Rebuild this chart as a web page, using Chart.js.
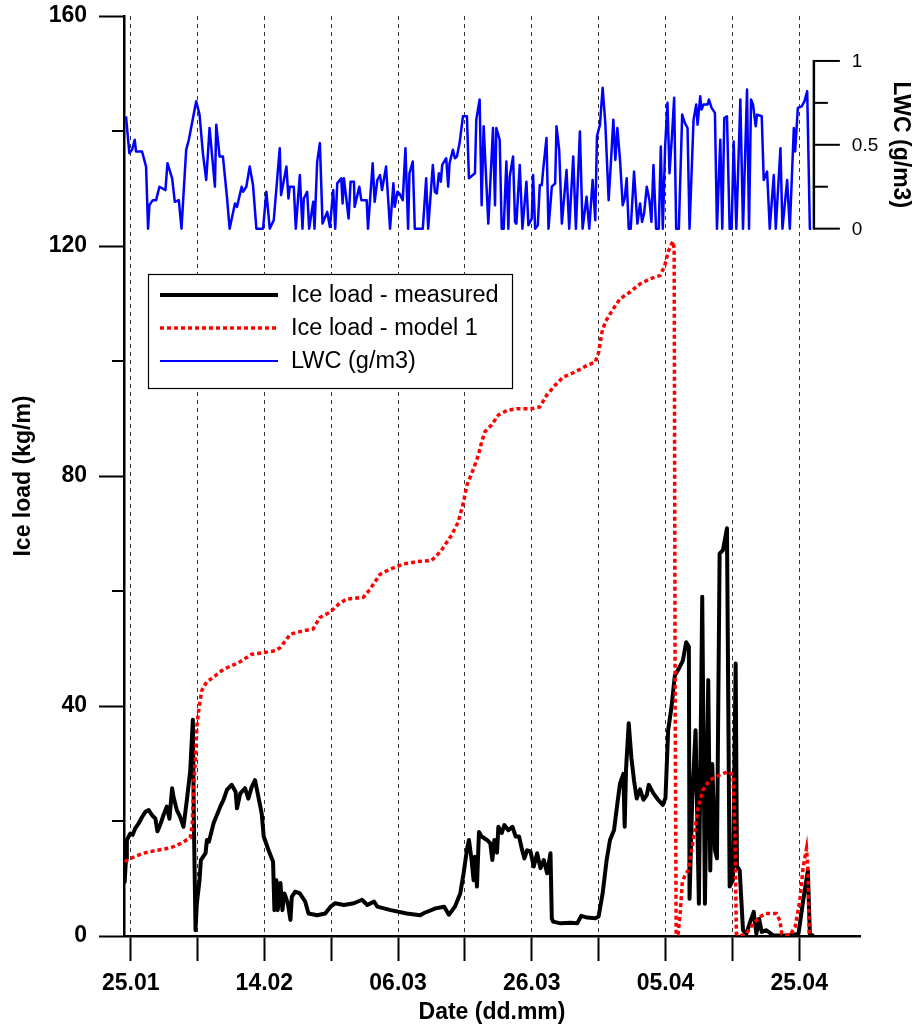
<!DOCTYPE html>
<html>
<head>
<meta charset="utf-8">
<title>Ice load and LWC</title>
<script src="https://cdn.jsdelivr.net/npm/chart.js@4.4.1/dist/chart.umd.min.js"></script>
<style>
    html, body { margin: 0; padding: 0; background: #fff; }
</style>
</head>
<body>
<canvas id="chart" width="916" height="1029"></canvas>
<script>
// x values are days counted from 25.01
const gridDays = [0, 10, 20, 30, 40, 50, 60, 70, 80, 90, 100];
const labelDays = [0, 20, 40, 60, 80, 100];
const dateLabels = ['25.01', '14.02', '06.03', '26.03', '05.04', '25.04'];

const iceMinorTicks = [20, 60, 100, 140];
const lwcTicks = [0, 0.25, 0.5, 0.75, 1];
const lwcTickLabels = ['0', '', '0.5', '', '1'];

const lwcDays = [
    -0.7, -0.2, 0.2, 0.6, 0.8, 1.7, 2.3, 2.6, 2.8, 3.3, 3.8, 4.3, 5.2, 5.5, 6.2, 6.6, 7.2, 7.6,
    8.3, 8.7, 9.8, 10.3, 10.8, 11.3, 11.8, 12.6, 12.8, 13.3, 13.8, 14.4, 14.8, 15.6, 15.9, 16.6,
    16.8, 17.3, 17.8, 18.3, 18.8, 19.8, 20.3, 20.8, 21.4, 22.3, 22.5, 23.3, 23.6, 23.8, 24.4, 24.7,
    25.3, 25.7, 25.9, 26.4, 26.7, 27.3, 27.5, 27.9, 28.3, 28.7, 29.4, 29.8, 30.3, 30.6, 30.9, 31.5,
    31.7, 31.9, 32.6, 32.9, 33.4, 33.5, 34.2, 34.5, 35.3, 35.5, 36.2, 36.5, 36.9, 37.3, 37.6, 38.2,
    38.8, 39.3, 39.5, 39.9, 40.2, 40.7, 41.1, 41.5, 41.7, 42.2, 42.5, 43.7, 44.2, 44.5, 45.2, 45.5,
    45.8, 46.1, 46.4, 46.6, 47.2, 47.5, 47.7, 48.2, 48.5, 48.8, 49.2, 49.7, 50.3, 50.6, 51.5, 51.7,
    52.2, 52.5, 52.8, 53.5, 54.2, 54.5, 54.7, 55.2, 55.5, 55.8, 56.2, 56.5, 56.7, 57.2, 57.5, 57.7,
    58.2, 58.6, 59.2, 59.5, 60.0, 60.2, 60.5, 60.9, 61.2, 61.5, 61.7, 62.2, 62.5, 63.0, 63.5, 63.7,
    64.1, 64.5, 65.2, 65.6, 66.2, 66.6, 67.2, 67.6, 68.2, 68.6, 69.1, 69.5, 69.75, 70.2, 70.6, 71.0,
    71.5, 71.8, 72.2, 72.5, 72.8, 73.2, 73.6, 73.9, 74.2, 74.5, 74.8, 75.3, 75.8, 76.2, 76.5, 76.8,
    77.2, 77.6, 77.9, 78.2, 78.6, 79.0, 79.3, 79.6, 79.95, 80.3, 80.6, 81.0, 81.3, 81.6, 82.0, 82.5,
    82.9, 83.3, 83.6, 84.2, 84.6, 84.8, 85.2, 85.4, 85.7, 86.3, 86.5, 86.9, 87.4, 87.7, 88.2, 88.5,
    88.8, 89.2, 89.6, 89.9, 90.2, 90.6, 91.2, 91.6, 92.2, 92.5, 92.8, 93.1, 93.5, 93.7, 94.4, 94.7,
    95.2, 95.6, 96.2, 96.5, 97.2, 97.5, 98.2, 98.6, 99.2, 99.4, 99.8, 100.4, 100.8, 101.2, 101.6, 101.8
];
const lwcValues = [
    0.67, 0.45, 0.47, 0.53, 0.46, 0.46, 0.37, 0, 0.14, 0.17, 0.17, 0.25, 0.23, 0.39, 0.30, 0.16, 0.17, 0,
    0.47, 0.53, 0.76, 0.68, 0.45, 0.29, 0.60, 0.25, 0.62, 0.43, 0.43, 0.19, 0, 0.15, 0.13, 0.25,
    0.22, 0.25, 0.37, 0.26, 0, 0, 0.22, 0, 0.05, 0.48, 0.20, 0.37, 0.18, 0.25, 0.25, 0,
    0.32, 0, 0.18, 0.22, 0, 0.16, 0, 0.40, 0.51, 0.03, 0.10, 0.01, 0.23, 0, 0.27, 0.30,
    0.15, 0.30, 0.06, 0.28, 0.28, 0.13, 0.25, 0.17, 0.17, 0, 0.39, 0.16, 0.29, 0.32, 0.23, 0.37,
    0, 0.27, 0.13, 0.22, 0.21, 0.17, 0.48, 0, 0.33, 0.40, 0, 0, 0.30, 0, 0.38, 0.22,
    0.21, 0.33, 0.28, 0.38, 0.42, 0.25, 0.39, 0.47, 0.42, 0.43, 0.51, 0.67, 0.67, 0.30, 0.33, 0.65,
    0.77, 0.14, 0.61, 0.03, 0.60, 0.14, 0.60, 0.53, 0, 0, 0.40, 0, 0.31, 0.43, 0.04, 0.03,
    0.38, 0, 0.28, 0.02, 0.06, 0.32, 0, 0.02, 0.26, 0.26, 0.35, 0.54, 0, 0.25, 0.27, 0.61,
    0.47, 0.03, 0.35, 0, 0.43, 0, 0.58, 0, 0.19, 0, 0.29, 0.05, 0.55, 0.62, 0.84, 0.63,
    0.17, 0.37, 0.65, 0.41, 0.60, 0.41, 0.14, 0.18, 0.30, 0, 0, 0.34, 0.03, 0.15, 0.04, 0.09,
    0.25, 0.17, 0.04, 0.38, 0, 0, 0.49, 0, 0.49, 0.75, 0.33, 0.57, 0.78, 0, 0, 0.68,
    0.63, 0.60, 0, 0.65, 0.74, 0.62, 0.79, 0.71, 0.74, 0.74, 0.77, 0.72, 0.69, 0, 0.53, 0,
    0.66, 0.67, 0, 0, 0.52, 0, 0.77, 0, 0.83, 0, 0.77, 0.74, 0.61, 0.68, 0.67, 0.29,
    0.34, 0, 0.32, 0, 0.48, 0, 0.29, 0, 0.60, 0.46, 0.72, 0.73, 0.76, 0.82, 0, 0
];

const measuredDays = [
    -0.9, -0.7, -0.57, -0.07, 0.3, 0.67, 1.2, 1.7, 2.2, 2.7, 3.2, 3.7, 4.0, 4.4, 4.9, 5.4, 5.8, 6.2,
    6.4, 6.9, 7.4, 7.9, 8.4, 8.9, 9.3, 9.45, 9.7, 9.9, 10.3, 10.5, 11.2, 11.4, 11.7, 12.4, 13.4, 13.9,
    14.4, 15.1, 15.7, 15.9, 16.4, 17.1, 17.6, 18.1, 18.6, 19.0, 19.6, 19.9, 20.6, 21.3, 21.5, 21.8,
    22.0, 22.4, 22.7, 23.0, 23.5, 23.9, 24.1, 24.6, 25.3, 26.1, 26.6, 27.9, 29.1, 29.9, 30.6, 31.9,
    33.4, 34.6, 35.4, 36.4, 36.9, 38.9, 41.3, 43.3, 43.9, 45.6, 46.9, 47.6, 48.5, 49.3, 49.8, 50.3,
    50.6, 51.0, 51.3, 51.5, 51.8, 52.1, 52.5, 53.3, 53.8, 54.1, 54.4, 54.8, 55.0, 55.5, 55.9, 56.5,
    57.1, 57.6, 58.1, 58.5, 58.9, 59.3, 59.8, 60.3, 60.8, 61.3, 61.8, 62.3, 62.8, 63.0, 63.2, 64.3,
    65.8, 66.8, 67.4, 68.3, 69.5, 70.0, 70.6, 71.2, 71.7, 72.3, 72.8, 73.2, 73.7, 73.9, 74.1, 74.5,
    74.9, 75.3, 75.7, 76.2, 76.7, 77.2, 77.5, 78.2, 78.9, 79.6, 80.0, 80.4, 80.9, 81.4, 82.0, 82.6,
    83.1, 83.5, 83.6, 84.0, 84.5, 85.0, 85.5, 85.9, 86.4, 86.7, 87.0, 87.4, 87.7, 88.1, 88.6, 89.2,
    89.6, 90.1, 90.5, 90.7, 91.1, 91.6, 92.1, 92.6, 93.2, 93.6, 94.0, 94.4, 95.1, 96.1, 98.6, 99.9,
    100.6, 101.3, 101.6, 102.0
];
const measuredValues = [
    9.4, 13.5, 16.7, 17.8, 17.6, 18.7, 19.6, 20.7, 21.6, 21.9, 21.0, 20.4, 18.2, 19.3, 21.0, 22.5, 20.4, 25.7,
    24.2, 21.9, 20.7, 19.0, 23.6, 28.6, 37.6, 20.0, 1.0, 5.7, 9.7, 13.2, 14.4, 16.7, 16.4, 19.6, 22.5, 23.7,
    25.4, 26.3, 25.1, 22.2, 24.8, 25.7, 23.9, 25.9, 27.1, 24.8, 21.3, 17.3, 15.0, 12.9, 4.5, 9.7,
    4.5, 9.2, 4.5, 7.4, 5.7, 2.8, 6.8, 7.7, 7.4, 6.0, 3.9, 3.6, 3.9, 5.1, 5.7, 5.4,
    5.7, 6.3, 5.4, 6.0, 5.1, 4.5, 3.9, 3.6, 4.0, 4.8, 5.1, 3.7, 5.1, 7.4, 10.9, 15.0,
    16.7, 13.2, 9.7, 13.8, 8.6, 18.1, 17.3, 16.7, 16.1, 13.2, 16.7, 14.5, 19.0, 17.9, 19.3, 18.4,
    19.0, 17.3, 17.3, 15.2, 13.5, 14.9, 14.7, 12.1, 14.4, 11.8, 13.2, 10.9, 14.4, 3.0, 2.5, 2.2,
    2.3, 2.2, 3.5, 3.2, 3.1, 3.4, 7.4, 13.2, 16.7, 18.4, 23.0, 26.5, 28.2, 19.0, 29.0, 37.0,
    31.0, 27.0, 23.9, 25.5, 23.7, 24.5, 26.3, 24.8, 23.7, 22.8, 24.0, 35.8, 39.8, 45.3, 46.5, 47.9,
    51.1, 50.3, 6.5, 23.7, 35.8, 5.6, 59.0, 5.6, 44.5, 11.4, 29.9, 14.9, 13.5, 66.5, 67.1, 70.9,
    8.6, 9.8, 47.4, 12.1, 11.4, 1.0, 0.4, 2.2, 4.2, 0.4, 3.0, 0.7, 1.0, 0.1, 0.1, 0.4,
    6.2, 11.4, 0.4, 0.1
];

const modelDays = [
    -0.9, 0.0, 1.9, 3.9, 5.9, 7.7, 8.9, 9.2, 9.4, 9.7, 9.9, 10.2, 10.6, 11.4, 11.9, 13.9, 16.1, 18.1,
    19.9, 21.6, 22.4, 23.9, 25.9, 27.3, 28.3, 29.8, 31.1, 32.3, 34.8, 35.8, 37.3, 38.8, 40.8, 42.8,
    45.0, 45.8, 46.5, 47.3, 48.0, 49.0, 49.8, 50.3, 51.3, 52.0, 52.5, 53.0, 54.0, 55.0, 56.3, 57.8,
    60.0, 61.2, 62.2, 63.5, 64.7, 66.5, 68.2, 69.5, 70.0, 70.5, 71.0, 72.2, 73.2, 74.7, 76.2, 77.7,
    79.2, 79.9, 80.4, 81.1, 81.3, 81.45, 81.6, 81.9, 82.2, 82.5, 82.9, 83.4, 83.9, 84.4, 84.9, 85.6,
    86.6, 88.1, 89.4, 90.1, 90.4, 90.6, 91.1, 92.1, 93.1, 94.1, 94.9, 96.6, 97.1, 97.4, 98.6, 99.4,
    100.1, 100.6, 101.1, 101.3, 101.5, 101.8
];
const modelValues = [
    12.9, 13.5, 14.4, 14.9, 15.3, 16.2, 17.1, 19.1, 25.5, 31.3, 36.5, 39.4, 42.6, 44.3, 44.6, 46.4, 47.5, 49.0,
    49.3, 49.6, 50.2, 52.5, 53.1, 53.4, 55.4, 56.3, 57.7, 58.6, 58.9, 60.3, 62.9, 63.8, 64.7, 65.1,
    65.3, 66.2, 67.1, 68.5, 69.7, 72.0, 75.5, 78.4, 81.3, 83.6, 85.9, 87.7, 88.9, 90.6, 91.4, 91.7,
    91.7, 92.0, 94.0, 95.8, 97.2, 98.1, 99.2, 99.8, 101.5, 105.0, 106.8, 109.1, 110.8, 112.0, 113.4, 114.3,
    114.9, 116.6, 119.0, 120.8, 119.6, 40.0, 0.1, 0.4, 3.9, 9.1, 10.6, 11.4, 14.9, 18.4, 22.5, 25.4,
    27.1, 28.0, 28.6, 28.0, 17.9, 0.4, 0, 0.4, 2.1, 3.3, 3.9, 3.9, 2.7, 0.4, 0.1, 1.6,
    6.2, 12.0, 15.2, 12.0, 0.4, 0.1
];

const toPoints = (xs, ys) => xs.map((d, i) => ({x: d, y: ys[i]}));

const fontFamily = "'Liberation Sans', Arial, sans-serif";
const lwcAxisDay = 102.2;

// short minor ticks on the left axis, the LWC axis on the right and the boxed legend
const decorPlugin = {
    id: 'decor',
    afterDraw(chart) {
        const ctx = chart.ctx;
        const {x, y, y2} = chart.scales;
        ctx.save();
        ctx.strokeStyle = '#000';
        ctx.fillStyle = '#000';

        // minor ticks on ice load axis
        ctx.lineWidth = 2;
        iceMinorTicks.forEach((v) => {
            const py = y.getPixelForValue(v);
            ctx.beginPath();
            ctx.moveTo(x.left - 12, py);
            ctx.lineTo(x.left, py);
            ctx.stroke();
        });

        // LWC axis
        const ax = x.getPixelForValue(lwcAxisDay);
        ctx.lineWidth = 2.5;
        ctx.beginPath();
        ctx.moveTo(ax, y2.getPixelForValue(0) + 1);
        ctx.lineTo(ax, y2.getPixelForValue(1) - 1);
        ctx.stroke();
        ctx.lineWidth = 2;
        ctx.font = '19px ' + fontFamily;
        ctx.textAlign = 'left';
        ctx.textBaseline = 'middle';
        lwcTicks.forEach((v, i) => {
            const py = y2.getPixelForValue(v);
            const major = lwcTickLabels[i] !== '';
            ctx.beginPath();
            ctx.moveTo(ax, py);
            ctx.lineTo(ax + (major ? 26 : 14), py);
            ctx.stroke();
            if (major) ctx.fillText(lwcTickLabels[i], ax + 38, py + 1);
        });
        ctx.save();
        ctx.translate(ax + 86, y2.getPixelForValue(0.5));
        ctx.rotate(Math.PI / 2);
        ctx.font = 'bold 23px ' + fontFamily;
        ctx.textAlign = 'center';
        ctx.fillText('LWC (g/m3)', 0, 0);
        ctx.restore();

        // legend
        const box = {left: 148, top: 274, width: 364, height: 114};
        ctx.fillStyle = '#fff';
        ctx.fillRect(box.left, box.top, box.width, box.height);
        ctx.lineWidth = 1.2;
        ctx.strokeStyle = '#000';
        ctx.strokeRect(box.left + 0.5, box.top + 0.5, box.width, box.height);
        ctx.font = '23.5px ' + fontFamily;
        ctx.textAlign = 'left';
        ctx.textBaseline = 'middle';
        const legendWidths = [4, 3.5, 2];
        chart.data.datasets.forEach((ds, i) => {
            const ly = box.top + 21 + i * 33;
            ctx.save();
            ctx.strokeStyle = ds.borderColor;
            ctx.lineWidth = legendWidths[i];
            ctx.setLineDash(ds.borderDash || []);
            ctx.beginPath();
            ctx.moveTo(box.left + 12, ly);
            ctx.lineTo(box.left + 130, ly);
            ctx.stroke();
            ctx.restore();
            ctx.fillStyle = '#000';
            ctx.fillText(ds.label, box.left + 143, ly + 1);
        });
        ctx.restore();
    }
};

new Chart(document.getElementById('chart').getContext('2d'), {
    type: 'line',
    data: {
        datasets: [
            {
                label: 'Ice load - measured',
                data: toPoints(measuredDays, measuredValues),
                borderColor: '#000000',
                borderWidth: 4,
                borderJoinStyle: 'round',
                borderCapStyle: 'round',
                yAxisID: 'y',
                order: 1
            },
            {
                label: 'Ice load - model 1',
                data: toPoints(modelDays, modelValues),
                borderColor: '#ff0000',
                borderWidth: 3.5,
                borderDash: [4, 3],
                yAxisID: 'y',
                order: 0
            },
            {
                label: 'LWC (g/m3)',
                data: toPoints(lwcDays, lwcValues),
                borderColor: '#0000ff',
                borderWidth: 2.5,
                borderJoinStyle: 'round',
                yAxisID: 'y2',
                order: 2
            }
        ]
    },
    options: {
        responsive: false,
        animation: false,
        events: [],
        layout: {
            padding: {top: 16, right: 56, left: 0, bottom: 0}
        },
        elements: {
            point: {radius: 0},
            line: {tension: 0, fill: false}
        },
        plugins: {
            legend: {display: false},
            tooltip: {enabled: false}
        },
        scales: {
            x: {
                type: 'linear',
                min: -1,
                max: 109.1,
                afterBuildTicks: (scale) => {
                    scale.ticks = gridDays.map((d) => ({value: d}));
                },
                afterFit: (scale) => {
                    scale.height = 93;
                },
                grid: {
                    color: '#333',
                    lineWidth: 1,
                    tickLength: 25,
                    tickColor: '#000',
                    tickWidth: 2
                },
                border: {display: true, color: '#000', width: 2.5, dash: [4, 4]},
                ticks: {
                    autoSkip: false,
                    maxRotation: 0,
                    padding: 9,
                    color: '#000',
                    font: {family: fontFamily, size: 23, weight: 'bold'},
                    callback: (value) => {
                        const i = labelDays.indexOf(value);
                        return i >= 0 ? dateLabels[i] : '';
                    }
                },
                title: {
                    display: true,
                    text: 'Date (dd.mm)',
                    color: '#000',
                    font: {family: fontFamily, size: 23, weight: 'bold'},
                    padding: {top: 0, bottom: 3}
                }
            },
            y: {
                type: 'linear',
                position: 'left',
                min: 0,
                max: 160,
                afterFit: (scale) => {
                    scale.width = 124;
                    scale.paddingTop = 0;
                    scale.paddingBottom = 0;
                },
                grid: {
                    drawOnChartArea: false,
                    tickLength: 25,
                    tickColor: '#000',
                    tickWidth: 2
                },
                border: {display: true, color: '#000', width: 2.5},
                ticks: {
                    stepSize: 40,
                    padding: 12,
                    color: '#000',
                    font: {family: fontFamily, size: 23, weight: 'bold'}
                },
                title: {
                    display: true,
                    text: 'Ice load (kg/m)',
                    color: '#000',
                    font: {family: fontFamily, size: 23, weight: 'bold'},
                    padding: {top: 10, bottom: 0}
                }
            },
            y2: {
                type: 'linear',
                display: false,
                min: -4.218,
                max: 1.268
            }
        }
    },
    plugins: [decorPlugin]
});
</script>
</body>
</html>
